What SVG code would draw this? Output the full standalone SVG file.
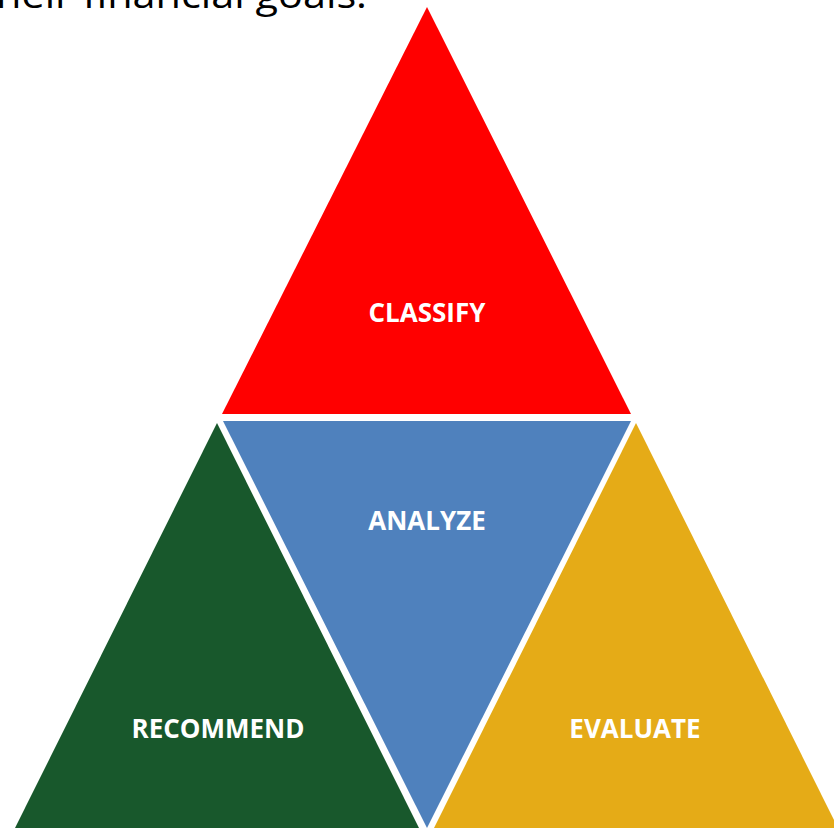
<svg xmlns="http://www.w3.org/2000/svg" width="834" height="828" viewBox="0 0 834 828">
<style>
.lbl{font-family:"Open Sans","Liberation Sans",sans-serif;font-weight:bold;font-size:26px;fill:#FFFFFF;text-anchor:middle}
.cap{font-family:"Open Sans","Liberation Sans",sans-serif;font-size:37px;fill:#000000}
</style>
<rect width="834" height="828" fill="#FFFFFF"/>
<text class="cap" x="-4" y="8" textLength="371" lengthAdjust="spacingAndGlyphs">heir financial goals.</text>
<g id="classify">
<polygon points="427,7 222,414 631,414" fill="#FF0000"/>
<text class="lbl" x="427" y="322">CLASSIFY</text>
</g>
<g id="analyze">
<polygon points="223,421 631,421 427,828" fill="#4F81BD"/>
<text class="lbl" x="427" y="530">ANALYZE</text>
</g>
<g id="recommend">
<polygon points="217,423 14,830 420,830" fill="#18582C"/>
<text class="lbl" x="218" y="738">RECOMMEND</text>
</g>
<g id="evaluate">
<polygon points="636,423 433,830 839,830" fill="#E5AB17"/>
<text class="lbl" x="635" y="738">EVALUATE</text>
</g>
<g id="connectors"></g>
</svg>
